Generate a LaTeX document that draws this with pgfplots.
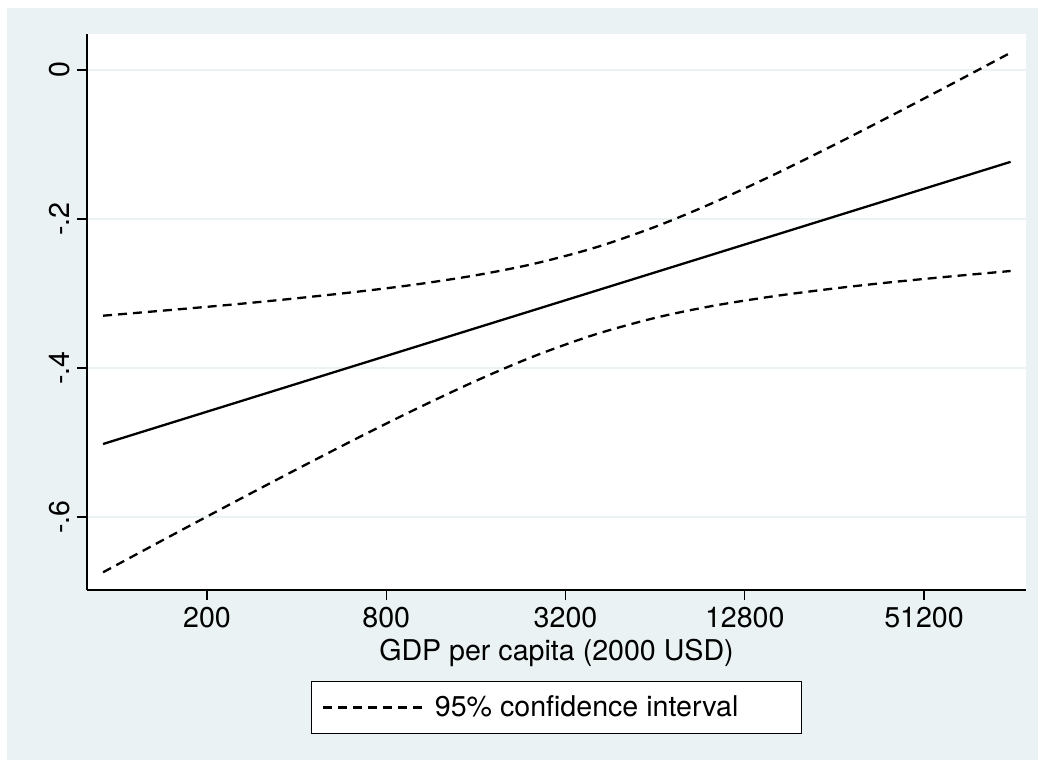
\documentclass[border=0pt]{standalone}
\usepackage{pgfplots}
\pgfplotsset{compat=1.18}
\usepackage{fontspec}
\setmainfont{TeX Gyre Heros}
\definecolor{bg}{RGB}{234,242,243}
\newcommand{\lab}{\fontsize{14.3pt}{17pt}\selectfont}
\begin{document}
\begin{tikzpicture}
\fill[white] (0pt,0pt) rectangle (519pt,-381pt);
\fill[bg] (3.5pt,-3.75pt) rectangle (519pt,-380pt);
\begin{axis}[
  at={(43.5pt,-295pt)}, anchor=south west,
  scale only axis, width=469.5pt, height=278pt,
  xmode=log, xmin=79.05, xmax=112700, ymin=-0.698, ymax=0.0483,
  axis x line*=bottom, axis y line*=left,
  axis line style={line width=0.7pt, black},
  tick align=outside, major tick length=5pt,
  tick style={line width=0.65pt, black},
  xminorticks=false, yminorticks=false,
  xtick={200,800,3200,12800,51200},
  xticklabels={200,800,3200,12800,51200},
  ytick={-0.6,-0.4,-0.2,0},
  yticklabels={-.6,-.4,-.2,0},
  ymajorgrids, grid style={bg, line width=0.75pt},
  axis background/.style={fill=white},
  tick label style={font=\lab},
  yticklabel style={rotate=90, anchor=south},
  xlabel={GDP per capita (2000 USD)},
  xlabel style={font=\lab, at={(axis description cs:0.5,0)}, anchor=base, yshift=-35pt},
  legend style={at={(0.5,-0.1637)}, anchor=north, draw=black, line width=0.6pt, fill=white, font=\lab, legend cell align=left, inner xsep=5pt, inner ysep=5pt},
  legend image code/.code={\draw[#1] (0pt,0pt) -- (49.5pt,0pt);},
]
\addplot[black, line width=1.15pt, dash pattern=on 4.5pt off 3pt, smooth] coordinates {
(89.5,-0.3298) (150,-0.3222) (250,-0.3144) (400,-0.3064) (650,-0.2973) (1000,-0.2880) (1600,-0.2755) (2500,-0.2602) (4000,-0.2387) (6400,-0.2105) (10000,-0.1784) (16000,-0.1407) (25600,-0.1004) (40000,-0.0607) (64000,-0.0180) (100000,0.0232)
};
\addlegendentry{\hspace*{4pt}95\% confidence interval\hspace*{24.5pt}\mbox{}}
\addplot[black, line width=1.15pt, dash pattern=on 4.5pt off 3pt, smooth, forget plot] coordinates {
(89.5,-0.6742) (150,-0.6260) (250,-0.5788) (400,-0.5360) (650,-0.4927) (1000,-0.4556) (1600,-0.4173) (2500,-0.3844) (4000,-0.3553) (6400,-0.3327) (10000,-0.3166) (16000,-0.3037) (25600,-0.2932) (40000,-0.2847) (64000,-0.2768) (100000,-0.2698)
};
\addplot[black, line width=1.15pt, forget plot] coordinates {
(89.5,-0.502) (100000,-0.1233)
};
\end{axis}
\end{tikzpicture}
\end{document}
